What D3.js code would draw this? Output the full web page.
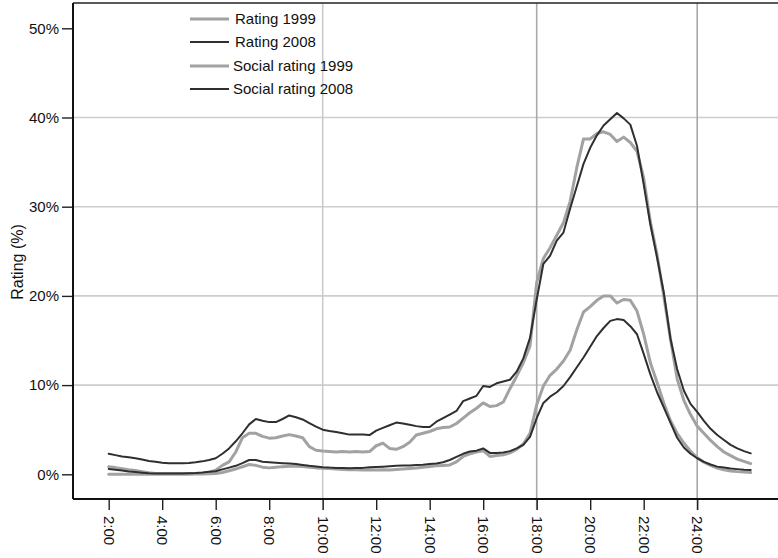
<!DOCTYPE html>
<html>
<head>
<meta charset="utf-8">
<script src="https://cdn.jsdelivr.net/npm/d3@7"></script>
<style>
  html, body { margin: 0; padding: 0; background: #fff; }
  svg { display: block; font-family: "Liberation Sans", Arial, sans-serif; }
</style>
</head>
<body>
<svg id="chart" width="778" height="558"></svg>
<script>
// Quarter-hour samples from 2:00 to 26:00 (2:00 next morning)
const startHour = 2;
const stepHours = 0.25;

const rating1999 = [
  0.85, 0.75, 0.62, 0.5, 0.42, 0.3, 0.18, 0.1,
  0.08, 0.08, 0.08, 0.08, 0.08, 0.08, 0.1, 0.2,
  0.45, 1.0, 1.4, 2.5, 4.1, 4.6, 4.6, 4.25,
  4.05, 4.1, 4.3, 4.45, 4.3, 4.1, 3.1, 2.7,
  2.6, 2.55, 2.5, 2.55, 2.5, 2.55, 2.5, 2.55,
  3.2, 3.5, 2.9, 2.8, 3.1, 3.6, 4.4, 4.6,
  4.8, 5.1, 5.25, 5.3, 5.7, 6.3, 6.9, 7.4,
  8.0, 7.6, 7.7, 8.1, 9.6, 11.0, 12.5, 14.4,
  21.5, 24.2, 25.4, 26.8, 28.2, 30.6, 34.4, 37.6,
  37.6, 38.2, 38.4, 38.1, 37.3, 37.8, 37.2, 36.2,
  33.2, 28.3, 24.6, 20.0, 15.2, 10.7, 8.3, 6.7,
  5.4, 4.6, 3.8, 3.1, 2.5, 2.1, 1.7, 1.45,
  1.2
];

const rating2008 = [
  2.3, 2.15, 2.0, 1.9, 1.8, 1.65, 1.5, 1.4,
  1.3, 1.25, 1.25, 1.25, 1.28, 1.35, 1.45, 1.6,
  1.8, 2.3, 2.9, 3.7, 4.6, 5.6, 6.2, 6.0,
  5.85, 5.85, 6.2, 6.6, 6.4, 6.15, 5.75, 5.35,
  5.0, 4.85, 4.75, 4.6, 4.45, 4.45, 4.45, 4.4,
  4.9, 5.2, 5.5, 5.8, 5.7, 5.55, 5.4, 5.3,
  5.3, 5.9, 6.3, 6.7, 7.1, 8.2, 8.5, 8.8,
  9.9, 9.8, 10.2, 10.4, 10.6, 11.5, 13.0, 15.3,
  19.6, 23.6, 24.5, 26.2, 27.1, 29.8, 32.3, 34.8,
  36.6, 38.0, 39.1, 39.8, 40.5, 39.9, 39.2, 36.8,
  32.5, 28.0, 24.3, 20.4, 15.2, 11.8, 9.4, 7.9,
  7.0, 6.0, 5.1, 4.4, 3.85, 3.3, 2.9, 2.6,
  2.35
];

const social1999 = [
  0.0, 0.0, 0.0, 0.0, 0.0, 0.0, 0.0, 0.0,
  0.0, 0.0, 0.0, 0.0, 0.0, 0.02, 0.03, 0.05,
  0.1, 0.2, 0.4, 0.6, 0.85, 1.1, 1.0, 0.8,
  0.72, 0.8, 0.86, 0.9, 0.9, 0.88, 0.8, 0.72,
  0.68, 0.66, 0.6, 0.55, 0.52, 0.5, 0.48, 0.5,
  0.48, 0.5, 0.48, 0.55, 0.6, 0.65, 0.7, 0.8,
  0.88, 0.95, 1.0, 1.05, 1.4, 2.0, 2.3, 2.5,
  2.65, 2.0, 2.1, 2.2, 2.4, 2.8, 3.4, 4.6,
  7.8, 9.9, 11.1, 11.8, 12.7, 13.9, 16.2, 18.2,
  18.8, 19.5, 20.0, 20.0, 19.2, 19.6, 19.5, 18.3,
  15.7, 12.5, 10.3, 8.0, 6.0, 4.6, 3.5, 2.6,
  1.85, 1.35, 1.0, 0.7, 0.5, 0.38, 0.3, 0.25,
  0.2
];

const social2008 = [
  0.6, 0.5, 0.42, 0.32, 0.25, 0.18, 0.12, 0.1,
  0.1, 0.1, 0.1, 0.1, 0.12, 0.15, 0.2, 0.28,
  0.35, 0.55, 0.75, 0.95, 1.25, 1.6, 1.6, 1.4,
  1.35, 1.3, 1.25, 1.2, 1.15, 1.05, 0.95, 0.88,
  0.8, 0.75, 0.72, 0.7, 0.68, 0.7, 0.72, 0.78,
  0.82, 0.86, 0.9, 0.95, 0.98, 1.0, 1.05, 1.08,
  1.15, 1.2, 1.35, 1.6, 1.95, 2.3, 2.55, 2.65,
  2.9, 2.4, 2.4, 2.45, 2.6, 2.9, 3.3, 4.2,
  6.3, 8.0, 8.7, 9.2, 9.9, 10.9, 12.0, 13.1,
  14.3, 15.5, 16.4, 17.2, 17.4, 17.3, 16.6, 15.7,
  13.5, 11.2, 9.2, 7.5, 5.8, 4.1, 3.0, 2.3,
  1.8, 1.4, 1.1, 0.86, 0.75, 0.65, 0.58, 0.52,
  0.48
];

const seriesNames = ["Rating 1999", "Rating 2008", "Social rating 1999", "Social rating 2008"];
const seriesValues = [rating1999, rating2008, social1999, social2008];

const xTickValues = [2, 4, 6, 8, 10, 12, 14, 16, 18, 20, 22, 24];
const xTickLabels = ["2:00", "4:00", "6:00", "8:00", "10:00", "12:00", "14:00", "16:00", "18:00", "20:00", "22:00", "24:00"];
const yTickValues = [0, 10, 20, 30, 40, 50];
const yTickLabels = ["0%", "10%", "20%", "30%", "40%", "50%"];
const hGridValues = [10, 20, 30, 40];
const vGridValues = [10, 18, 24];
const yTitle = "Rating (%)";

// ---- layout ----
const frame = { left: 73, right: 778, top: 3, bottom: 499 };
const lightGrey = "#a2a2a2";
const darkGrey = "#2f2f2f";
const seriesStyle = [
  { color: lightGrey, width: 3 },
  { color: darkGrey, width: 2 },
  { color: lightGrey, width: 3 },
  { color: darkGrey, width: 2 }
];

const svg = d3.select("#chart");

const x = d3.scaleLinear().domain([2, 26]).range([108.7, 750.7]);
const y = d3.scaleLinear().domain([0, 50]).range([474.3, 28.3]);

const times = seriesValues[0].map((_, i) => startHour + i * stepHours);

// horizontal grid
svg.append("g")
  .selectAll("line")
  .data(hGridValues)
  .join("line")
  .attr("x1", frame.left).attr("x2", frame.right)
  .attr("y1", d => y(d)).attr("y2", d => y(d))
  .attr("stroke", "#cdcdcd").attr("stroke-width", 1.6);

// vertical grid
svg.append("g")
  .selectAll("line")
  .data(vGridValues)
  .join("line")
  .attr("x1", d => x(d)).attr("x2", d => x(d))
  .attr("y1", frame.top).attr("y2", frame.bottom + 11)
  .attr("stroke", d => d === 10 ? "#cbcbcb" : "#a9a9a9")
  .attr("stroke-width", 1.6);

// series
const line = d3.line()
  .x((d, i) => x(times[i]))
  .y(d => y(d));

const order = [0, 2, 1, 3];
svg.append("g")
  .selectAll("path")
  .data(order)
  .join("path")
  .attr("d", k => line(seriesValues[k]))
  .attr("fill", "none")
  .attr("stroke", k => seriesStyle[k].color)
  .attr("stroke-width", k => seriesStyle[k].width)
  .attr("stroke-linejoin", "round")
  .attr("stroke-linecap", "round");

// top frame line
svg.append("line")
  .attr("x1", frame.left).attr("x2", frame.right)
  .attr("y1", frame.top).attr("y2", frame.top)
  .attr("stroke", "#222").attr("stroke-width", 1.6);

// x axis
const xAxis = d3.axisBottom(x)
  .tickValues(xTickValues)
  .tickFormat((d, i) => xTickLabels[i])
  .tickSize(11)
  .tickPadding(6);

const gx = svg.append("g")
  .attr("transform", `translate(0,${frame.bottom})`)
  .call(xAxis);
gx.select(".domain").remove();
gx.selectAll(".tick line").attr("stroke", "#222").attr("stroke-width", 1.4);
gx.selectAll(".tick text")
  .attr("font-size", 15)
  .attr("fill", "#111")
  .attr("transform", "rotate(90)")
  .attr("text-anchor", "start")
  .attr("x", 17)
  .attr("y", 0)
  .attr("dy", "0.35em");
gx.append("line")
  .attr("x1", frame.left).attr("x2", frame.right)
  .attr("y1", 0).attr("y2", 0)
  .attr("stroke", "#111").attr("stroke-width", 2);

// y axis
const yAxis = d3.axisLeft(y)
  .tickValues(yTickValues)
  .tickFormat((d, i) => yTickLabels[i])
  .tickSize(11)
  .tickPadding(3);

const gy = svg.append("g")
  .attr("transform", `translate(${frame.left},0)`)
  .call(yAxis);
gy.select(".domain").remove();
gy.selectAll(".tick line").attr("stroke", "#222").attr("stroke-width", 1.4);
gy.selectAll(".tick text").attr("font-size", 15).attr("fill", "#111");
gy.append("line")
  .attr("x1", 0).attr("x2", 0)
  .attr("y1", frame.top).attr("y2", frame.bottom)
  .attr("stroke", "#111").attr("stroke-width", 2);

// y title
svg.append("text")
  .attr("transform", `translate(17,262) rotate(-90)`)
  .attr("text-anchor", "middle")
  .attr("dy", "0.35em")
  .attr("font-size", 16)
  .attr("fill", "#111")
  .text(yTitle);

// legend
const legendRows = [19, 42, 66, 89];
const legendTextX = [235, 235, 233, 233];
const legend = svg.append("g");
seriesNames.forEach((name, k) => {
  legend.append("line")
    .attr("x1", 190).attr("x2", 229)
    .attr("y1", legendRows[k]).attr("y2", legendRows[k])
    .attr("stroke", seriesStyle[k].color)
    .attr("stroke-width", seriesStyle[k].width);
  legend.append("text")
    .attr("x", legendTextX[k])
    .attr("y", legendRows[k])
    .attr("dy", "0.35em")
    .attr("font-size", 15)
    .attr("fill", "#111")
    .text(name);
});
</script>
</body>
</html>
